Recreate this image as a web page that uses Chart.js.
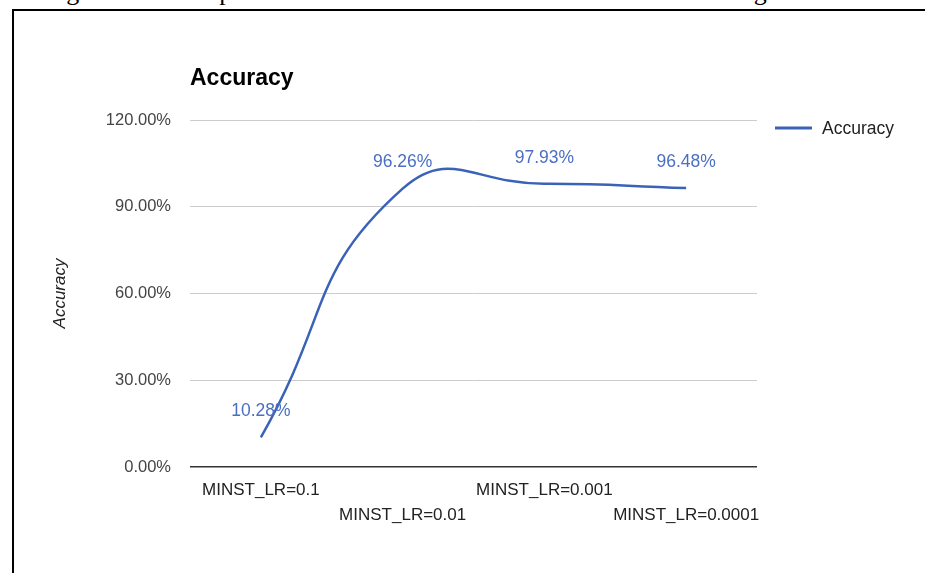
<!DOCTYPE html>
<html>
<head>
<meta charset="utf-8">
<script src="https://cdn.jsdelivr.net/npm/chart.js@4.4.1/dist/chart.umd.min.js"></script>
<style>
  html, body { margin: 0; padding: 0; background: #fff; width: 925px; height: 573px; overflow: hidden; }
  #toptext { position: absolute; left: -6px; top: -21px; font-family: "Liberation Serif", "DejaVu Serif", serif; font-size: 26px; line-height: 26px; color: #000; white-space: nowrap; }
  #frame { position: absolute; left: 12px; top: 9px; width: 1000px; height: 700px; border-top: 2px solid #000; border-left: 2px solid #000; }
  #wrap { position: absolute; left: 0; top: 0; width: 925px; height: 573px; }
</style>
</head>
<body>
<div id="toptext">learning rate for the optimal result. Then we choose the best model among them</div>
<div id="frame"></div>
<div id="wrap"><canvas id="c" width="925" height="573"></canvas></div>
<script>
// ---- data ----
const categories = ["MINST_LR=0.1", "MINST_LR=0.01", "MINST_LR=0.001", "MINST_LR=0.0001"];
const accuracy = [10.28, 96.26, 97.93, 96.48];
const yTicks = [0, 30, 60, 90, 120];
const seriesName = "Accuracy";
const chartTitle = "Accuracy";
const yAxisTitle = "Accuracy";

const FONT = '"Liberation Sans", Arial, Helvetica, sans-serif';
const BLUE = '#3a63b8';

const overlay = {
  id: 'overlay',
  afterDatasetsDraw(chart) {
    const ctx = chart.ctx;
    const area = chart.chartArea;
    ctx.save();
    // data labels
    const meta = chart.getDatasetMeta(0);
    ctx.font = '17.5px ' + FONT;
    ctx.fillStyle = '#4a6fc2';
    ctx.textAlign = 'center';
    ctx.textBaseline = 'middle';
    meta.data.forEach((pt, i) => {
      ctx.fillText(accuracy[i].toFixed(2) + '%', pt.x, pt.y - 26);
    });
    // title
    ctx.font = 'bold 23px ' + FONT;
    ctx.fillStyle = '#000';
    ctx.textAlign = 'left';
    ctx.fillText(chartTitle, area.left, 79);
    // legend
    ctx.strokeStyle = BLUE;
    ctx.lineWidth = 3;
    ctx.beginPath();
    ctx.moveTo(775, 128);
    ctx.lineTo(812, 128);
    ctx.stroke();
    ctx.font = '17.5px ' + FONT;
    ctx.fillStyle = '#222';
    ctx.fillText(seriesName, 822, 129);
    ctx.restore();
  }
};

new Chart(document.getElementById('c'), {
  type: 'line',
  data: {
    labels: categories,
    datasets: [{
      label: seriesName,
      data: accuracy,
      borderColor: BLUE,
      borderWidth: 2.5,
      pointRadius: 0,
      pointHoverRadius: 0,
      tension: 0.5,
      fill: false
    }]
  },
  options: {
    responsive: false,
    animation: false,
    events: [],
    layout: { padding: { top: 120, right: 168, left: 0, bottom: 0 } },
    plugins: { legend: { display: false }, title: { display: false }, tooltip: { enabled: false } },
    scales: {
      x: {
        offset: true,
        grid: { display: false, drawTicks: false, tickLength: 0 },
        border: { display: false },
        ticks: {
          autoSkip: false, maxRotation: 0, minRotation: 0, padding: 11,
          color: '#222',
          font: { family: FONT, size: 17, lineHeight: 25 / 17 },
          callback: function (v, i) { return i % 2 === 1 ? ['', categories[i]] : categories[i]; }
        },
        afterFit(scale) { scale.height = 573 - 467; }
      },
      y: {
        min: yTicks[0], max: yTicks[yTicks.length - 1],
        afterBuildTicks(scale) { scale.ticks = yTicks.map(v => ({ value: v })); },
        grid: {
          drawTicks: false, tickLength: 0,
          color: (c) => c.tick && c.tick.value === 0 ? '#333' : '#cccccc',
          lineWidth: (c) => c.tick && c.tick.value === 0 ? 1.5 : 1
        },
        border: { display: false },
        ticks: {
          padding: 19, color: '#444',
          font: { family: FONT, size: 16.5 },
          callback: (v) => Number(v).toFixed(2) + '%'
        },
        title: {
          display: true, text: yAxisTitle, color: '#222',
          font: { family: FONT, size: 17, style: 'italic' },
          padding: { top: 50, bottom: 0 }
        },
        afterFit(scale) { scale.width = 190; }
      }
    }
  },
  plugins: [overlay]
});
</script>
</body>
</html>
